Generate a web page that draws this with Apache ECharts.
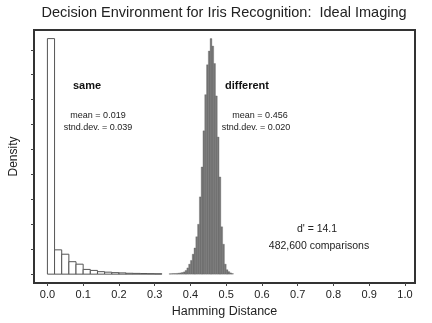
<!DOCTYPE html>
<html>
<head>
<meta charset="utf-8">
<script src="https://cdn.jsdelivr.net/npm/echarts@6/dist/echarts.min.js"></script>
<style>
html,body{margin:0;padding:0;background:#fff;}
#chart{width:432px;height:323px;}
</style>
</head>
<body>
<div id="chart"></div>
<script>
// ---- data ----
const xTickValues = [0, 0.1, 0.2, 0.3, 0.4, 0.5, 0.6, 0.7, 0.8, 0.9, 1.0];
const yTickValues = [0, 2, 4, 6, 8, 10, 12, 14, 16, 18];

// "same" histogram (bin width 0.02)
const sameBinWidth = 0.02;
const sameBinStart = [0.00, 0.02, 0.04, 0.06, 0.08, 0.10, 0.12, 0.14, 0.16, 0.18, 0.20, 0.22, 0.24, 0.26, 0.28, 0.30];
const sameDensity  = [18.9, 1.95, 1.6, 1.0, 0.8, 0.38, 0.3, 0.2, 0.16, 0.12, 0.1, 0.07, 0.06, 0.05, 0.04, 0.03];

// "different" histogram (bin width 0.005)
const diffBinWidth = 0.005;
const diffBinStart = [0.340, 0.345, 0.350, 0.355, 0.360, 0.365, 0.370, 0.375, 0.380, 0.385,
                      0.390, 0.395, 0.400, 0.405, 0.410, 0.415, 0.420, 0.425, 0.430, 0.435,
                      0.440, 0.445, 0.450, 0.455, 0.460, 0.465, 0.470, 0.475, 0.480, 0.485,
                      0.490, 0.495, 0.500, 0.505, 0.510, 0.515];
const diffDensity  = [0.03, 0.04, 0.05, 0.05, 0.06, 0.08, 0.10, 0.13, 0.18, 0.30,
                      0.50, 0.80, 1.10, 1.60, 2.10, 3.00, 4.00, 6.20, 8.60, 11.5,
                      14.4, 16.8, 17.9, 18.9, 18.3, 16.9, 14.3, 11.0, 7.8, 3.8,
                      2.4, 0.8, 0.35, 0.2, 0.1, 0.05];

const sameData = sameBinStart.map((s, i) => [s, s + sameBinWidth, sameDensity[i]]);
const diffData = diffBinStart.map((s, i) => [s, s + diffBinWidth, diffDensity[i]]);

function histRender(fill, stroke, lw) {
  return function (params, api) {
    const x0 = api.value(0), x1 = api.value(1), h = api.value(2);
    const p0 = api.coord([x0, 0]);
    const p1 = api.coord([x1, h]);
    return {
      type: 'rect',
      shape: { x: p0[0], y: p1[1], width: p1[0] - p0[0], height: p0[1] - p1[1] },
      style: { fill: fill, stroke: stroke, lineWidth: lw }
    };
  };
}

const FONT = '"Liberation Sans", Arial, Helvetica, sans-serif';
const chart = echarts.init(document.getElementById('chart'));
chart.setOption({
  animation: false,
  backgroundColor: '#ffffff',
  grid: {
    left: 31.5, right: 17, top: 30, bottom: 37,
    show: true, borderColor: '#333', borderWidth: 2, backgroundColor: '#fff'
  },
  xAxis: {
    type: 'value', min: -0.0375, max: 1.028,
    name: 'Hamming Distance', nameLocation: 'middle', nameGap: 22,
    nameTextStyle: { fontFamily: FONT, fontSize: 12.5, color: '#222' },
    axisLine: { show: false, onZero: false },
    splitLine: { show: false },
    axisTick: { show: true, length: 3, inside: false, customValues: xTickValues, lineStyle: { color: '#444' } },
    axisLabel: { customValues: xTickValues, formatter: v => v.toFixed(1), margin: 6,
      fontFamily: FONT, fontSize: 11, color: '#222' }
  },
  yAxis: {
    type: 'value', min: -0.71, max: 19.59,
    name: 'Density', nameLocation: 'middle', nameGap: 14,
    nameTextStyle: { fontFamily: FONT, fontSize: 12, color: '#222' },
    axisLine: { show: false, onZero: false },
    splitLine: { show: false },
    axisTick: { show: true, length: 3, inside: false, customValues: yTickValues, lineStyle: { color: '#444' } },
    axisLabel: { show: false }
  },
  series: [
    { type: 'custom', name: 'same', renderItem: histRender('#ffffff', '#555', 1),
      encode: { x: [0, 1], y: 2 }, data: sameData, z: 3 },
    { type: 'custom', name: 'different', renderItem: histRender('#777777', '#5a5a5a', 0.3),
      encode: { x: [0, 1], y: 2 }, data: diffData, z: 3 }
  ],
  graphic: [
    { type: 'text', x: 224, y: 13, style: { text: 'Decision Environment for Iris Recognition:  Ideal Imaging', fontFamily: FONT, fontSize: 14.5, fill: '#222', align: 'center', verticalAlign: 'middle' } },
    { type: 'text', x: 87, y: 86, style: { text: 'same', fontFamily: FONT, fontSize: 11, fontWeight: 'bold', fill: '#111', align: 'center', verticalAlign: 'middle' } },
    { type: 'text', x: 98, y: 116, style: { text: 'mean = 0.019', fontFamily: FONT, fontSize: 9, fill: '#222', align: 'center', verticalAlign: 'middle' } },
    { type: 'text', x: 98, y: 128, style: { text: 'stnd.dev. = 0.039', fontFamily: FONT, fontSize: 9, fill: '#222', align: 'center', verticalAlign: 'middle' } },
    { type: 'text', x: 247, y: 86, style: { text: 'different', fontFamily: FONT, fontSize: 11, fontWeight: 'bold', fill: '#111', align: 'center', verticalAlign: 'middle' } },
    { type: 'text', x: 260, y: 116, style: { text: 'mean = 0.456', fontFamily: FONT, fontSize: 9, fill: '#222', align: 'center', verticalAlign: 'middle' } },
    { type: 'text', x: 256, y: 128, style: { text: 'stnd.dev. = 0.020', fontFamily: FONT, fontSize: 9, fill: '#222', align: 'center', verticalAlign: 'middle' } },
    { type: 'text', x: 317, y: 229, style: { text: "d' = 14.1", fontFamily: FONT, fontSize: 10.5, fill: '#222', align: 'center', verticalAlign: 'middle' } },
    { type: 'text', x: 319, y: 246, style: { text: '482,600 comparisons', fontFamily: FONT, fontSize: 10.5, fill: '#222', align: 'center', verticalAlign: 'middle' } }
  ]
});
</script>
</body>
</html>
